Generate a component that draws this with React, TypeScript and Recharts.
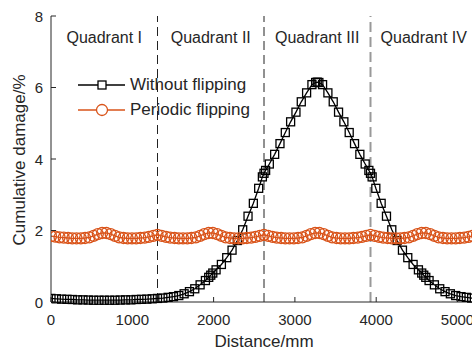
import { Label, Legend, Line, LineChart, ReferenceArea, ReferenceLine, XAxis, YAxis } from "recharts"

const FONT = '"Liberation Sans", Arial, sans-serif'
const INK = "#262626"
const ORANGE = "#D95319"

// distance (mm) / cumulative damage (%) – without flipping
const withoutX = [
  0, 65.5, 131, 196.5, 262, 327.5, 393, 458.5, 524, 589.5, 655, 720.5, 786, 851.5, 917, 982.5, 1048, 1113.5, 1179, 1244.5,
  1310, 1375.5, 1441, 1506.5, 1572, 1637.5, 1703, 1768.5, 1834, 1899.5, 1940, 1965, 1990, 2030.5, 2096, 2161.5, 2227, 2292.5,
  2358, 2423.5, 2489, 2554.5, 2600, 2620, 2640, 2685.5, 2751, 2816.5, 2882, 2947.5, 3013, 3078.5, 3144, 3209.5, 3255, 3275,
  3295, 3340.5, 3406, 3471.5, 3537, 3602.5, 3668, 3733.5, 3799, 3864.5, 3910, 3930, 3950, 3995.5, 4061, 4126.5, 4192, 4257.5,
  4323, 4388.5, 4454, 4519.5, 4560, 4585, 4610, 4650.5, 4716, 4781.5, 4847, 4912.5, 4978, 5043.5, 5109, 5174.5, 5240,
]
const withoutY = [
  0.1, 0.09, 0.08, 0.075, 0.07, 0.06, 0.06, 0.055, 0.05, 0.05, 0.05, 0.05, 0.05, 0.055, 0.06, 0.06, 0.07, 0.075, 0.08, 0.09,
  0.1, 0.11, 0.13, 0.15, 0.18, 0.23, 0.29, 0.37, 0.48, 0.6, 0.69, 0.75, 0.81, 0.9, 1.05, 1.24, 1.45, 1.72,
  2.02, 2.4, 2.76, 3.18, 3.5, 3.6, 3.68, 3.86, 4.13, 4.43, 4.74, 5.04, 5.31, 5.6, 5.85, 6.08, 6.14, 6.15,
  6.14, 6.08, 5.85, 5.6, 5.31, 5.04, 4.74, 4.43, 4.13, 3.86, 3.68, 3.6, 3.5, 3.18, 2.76, 2.4, 2.02, 1.72,
  1.45, 1.24, 1.05, 0.9, 0.81, 0.75, 0.69, 0.6, 0.48, 0.37, 0.29, 0.23, 0.18, 0.15, 0.13, 0.11, 0.1,
]

// periodic flipping
const periodicX = [
  0, 52, 105, 157, 210, 262, 314, 367, 419, 472, 524, 576, 629, 681, 734, 786, 838, 891, 943, 996, 1048, 1100, 1153, 1205, 1258,
  1310, 1362, 1415, 1467, 1520, 1572, 1624, 1677, 1729, 1782, 1834, 1886, 1939, 1991, 2044, 2096, 2148, 2201, 2253, 2306, 2358,
  2410, 2463, 2515, 2568, 2620, 2672, 2725, 2777, 2830, 2882, 2934, 2987, 3039, 3092, 3144, 3196, 3249, 3301, 3354, 3406, 3458,
  3511, 3563, 3616, 3668, 3720, 3773, 3825, 3878, 3930, 3982, 4035, 4087, 4140, 4192, 4244, 4297, 4349, 4402, 4454, 4506, 4559,
  4611, 4664, 4716, 4768, 4821, 4873, 4926, 4978, 5030, 5083, 5135, 5188, 5240,
]
const periodicY = [
  1.84, 1.83, 1.81, 1.8, 1.79, 1.78, 1.78, 1.78, 1.79, 1.81, 1.85, 1.9, 1.93, 1.93, 1.9, 1.85, 1.81, 1.79, 1.78, 1.78, 1.78, 1.79, 1.8, 1.82, 1.85,
  1.88, 1.85, 1.82, 1.8, 1.79, 1.78, 1.78, 1.78, 1.79, 1.81, 1.85, 1.9, 1.93, 1.93, 1.9, 1.85, 1.81, 1.79, 1.78, 1.78, 1.78, 1.79, 1.8, 1.82, 1.85,
  1.88, 1.85, 1.82, 1.8, 1.79, 1.78, 1.78, 1.78, 1.79, 1.81, 1.85, 1.9, 1.93, 1.93, 1.9, 1.85, 1.81, 1.79, 1.78, 1.78, 1.78, 1.79, 1.8, 1.82, 1.85,
  1.88, 1.85, 1.82, 1.8, 1.79, 1.78, 1.78, 1.78, 1.79, 1.81, 1.85, 1.9, 1.93, 1.93, 1.9, 1.85, 1.81, 1.79, 1.78, 1.78, 1.78, 1.79, 1.8, 1.82, 1.85,
  1.87,
]

const xTicks = [0, 1000, 2000, 3000, 4000, 5000]
const yTicks = [0, 2, 4, 6, 8]
const quadrantBounds = [0, 1310, 2620, 3930, 5240]
const quadrantNames = ["Quadrant I", "Quadrant II", "Quadrant III", "Quadrant IV"]

const withoutData = withoutX.map((x, i) => ({ x, y: withoutY[i] }))
const periodicData = periodicX.map((x, i) => ({ x, y: periodicY[i] }))

const BottomTick = (props: any) => {
  const { x, y, payload } = props
  return (
    <g>
      <line x1={x} x2={x} y1={y} y2={y - 5} stroke={INK} />
      <text x={x} y={y + 23} textAnchor="middle" fontSize={15} fill={INK} fontFamily={FONT}>
        {payload.value}
      </text>
    </g>
  )
}

const TopTick = (props: any) => {
  const { x, y } = props
  return <line x1={x} x2={x} y1={y} y2={y + 5} stroke={INK} />
}

const LeftTick = (props: any) => {
  const { x, y, payload } = props
  return (
    <g>
      <line x1={x} x2={x + 5} y1={y} y2={y} stroke={INK} />
      <text x={x - 8} y={y + 5.5} textAnchor="end" fontSize={15} fill={INK} fontFamily={FONT}>
        {payload.value}
      </text>
    </g>
  )
}

const SquareDot = (props: any) => {
  const { cx, cy, index } = props
  return <rect key={index} x={cx - 4} y={cy - 4} width={8} height={8} fill="none" stroke="#000" strokeWidth={1.3} />
}

const LegendBox = () => (
  <div style={{ fontFamily: FONT, fontSize: 17, color: INK }}>
    <div style={{ display: "flex", alignItems: "center", height: 25 }}>
      <svg width={52} height={22}>
        <line x1={0} x2={47} y1={11} y2={11} stroke="#000" strokeWidth={1.3} />
        <rect x={20} y={7} width={8} height={8} fill="#fff" stroke="#000" strokeWidth={1.3} />
      </svg>
      <span>Without flipping</span>
    </div>
    <div style={{ display: "flex", alignItems: "center", height: 25 }}>
      <svg width={52} height={22}>
        <line x1={0} x2={47} y1={11} y2={11} stroke={ORANGE} strokeWidth={1.3} />
        <circle cx={24} cy={11} r={5.5} fill="#fff" stroke={ORANGE} strokeWidth={1.3} />
      </svg>
      <span>Periodic flipping</span>
    </div>
  </div>
)

export default function App() {
  return (
    <div style={{ position: "absolute", left: 0, top: 0, width: 472, height: 351, overflow: "hidden", background: "#fff" }}>
      <LineChart width={480} height={351} margin={{ top: 16, right: 3, bottom: 0, left: 0 }}>
        <XAxis
          dataKey="x"
          type="number"
          domain={[0, 5240]}
          ticks={xTicks}
          height={49}
          tickSize={0}
          tickMargin={0}
          tickLine={false}
          tick={<BottomTick />}
          stroke={INK}
          allowDataOverflow
        >
          <Label
            content={() => (
              <text x={264} y={347} textAnchor="middle" fontSize={17} fill={INK} fontFamily={FONT}>
                Distance/mm
              </text>
            )}
          />
        </XAxis>
        <XAxis
          xAxisId="top"
          orientation="top"
          type="number"
          domain={[0, 5240]}
          ticks={xTicks}
          height={0}
          tickSize={0}
          tickMargin={0}
          tickLine={false}
          tick={<TopTick />}
          stroke={INK}
          allowDataOverflow
        />
        <YAxis
          dataKey="y"
          type="number"
          domain={[0, 8]}
          ticks={yTicks}
          width={51}
          tickSize={0}
          tickMargin={0}
          tickLine={false}
          tick={<LeftTick />}
          stroke={INK}
        >
          <Label
            content={() => (
              <text x={25} y={160} transform="rotate(-90 25 160)" textAnchor="middle" fontSize={17} fill={INK} fontFamily={FONT}>
                Cumulative damage/%
              </text>
            )}
          />
        </YAxis>
        {quadrantNames.map((name, i) => (
          <ReferenceArea
            key={name}
            x1={quadrantBounds[i]}
            x2={quadrantBounds[i + 1]}
            fill="none"
            fillOpacity={0}
            stroke="none"
            label={{ value: name, position: "insideTop", offset: 16, fontSize: 16, fill: INK, fontFamily: FONT }}
          />
        ))}
        <ReferenceLine x={1310} stroke="#222" strokeDasharray="9 5" />
        <ReferenceLine x={2620} stroke="#222" strokeDasharray="9 5" />
        <ReferenceLine x={3930} stroke="#999" strokeWidth={2} strokeDasharray="10 5" />
        <Line
          data={withoutData}
          dataKey="y"
          name="Without flipping"
          stroke="#000"
          strokeWidth={1.3}
          dot={SquareDot}
          activeDot={false}
          isAnimationActive={false}
        />
        <Line
          data={periodicData}
          dataKey="y"
          name="Periodic flipping"
          stroke={ORANGE}
          strokeWidth={1.3}
          dot={{ r: 5.5, fill: "none", stroke: ORANGE, strokeWidth: 1.3 }}
          activeDot={false}
          isAnimationActive={false}
        />
        <Legend
          layout="horizontal"
          verticalAlign="middle"
          align="center"
          content={<LegendBox />}
          wrapperStyle={{ left: 78, top: 72, width: 220, height: 50 }}
        />
      </LineChart>
    </div>
  )
}
